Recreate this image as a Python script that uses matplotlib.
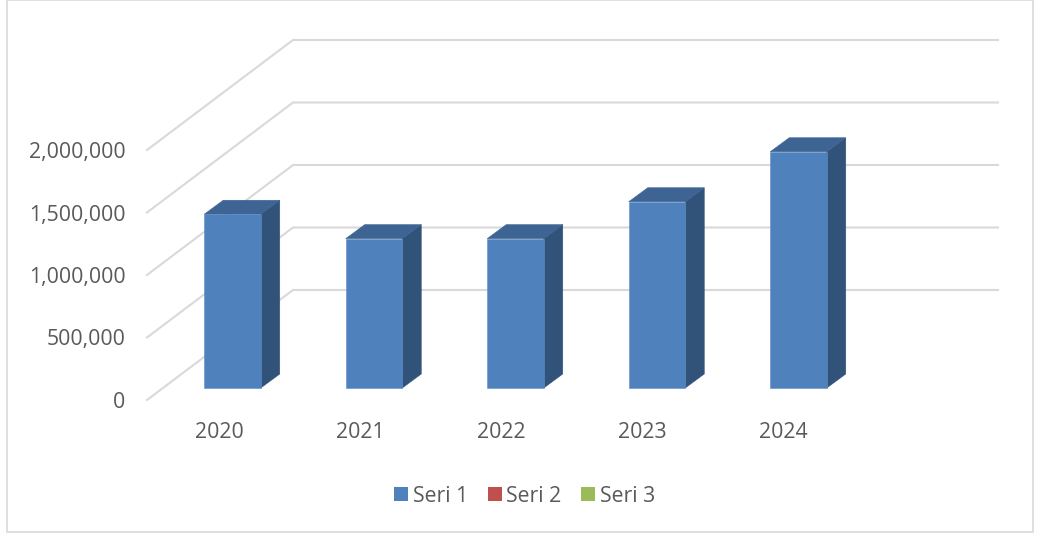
"""3D-style column chart, drawn flat with offset faces."""

import matplotlib
matplotlib.use("Agg")
import matplotlib.pyplot as plt
import matplotlib.patches as mpatches

years = ["2020", "2021", "2022", "2023", "2024"]
seri_1 = [1390000, 1195000, 1195000, 1490000, 1890000]
y_ticks = [0, 500000, 1000000, 1500000, 2000000]
series_names = ["Seri 1", "Seri 2", "Seri 3"]

BLUE = "#4F81BD"
RED = "#C0504D"
GREEN = "#9BBB59"
SIDE = "#325379"
TOP = "#3D6493"
GRID = "#D9D9D9"
TEXT = "#595959"

W, H = 1038, 535
BASE_Y = 388       # pixel row of value 0 on the bars' front plane
FIRST_X = 232.5    # pixel column of the first bar centre
STEP = 141.5       # pixels between categories
PX_PER_VALUE = 1 / 8000
BAR_W = 56.5
DEPTH_X, DEPTH_Y = 19, 14
FONT = 15.3

plt.rcParams["font.family"] = ["Open Sans", "DejaVu Sans"]

fig = plt.figure(figsize=(W / 100, H / 100), dpi=100)
fig.patch.set_facecolor("white")
ax = fig.add_axes([0, 0, 1, 1])
ax.set_xlim(-FIRST_X / STEP, (W - FIRST_X) / STEP)
ax.set_ylim((BASE_Y - H) / PX_PER_VALUE, BASE_Y / PX_PER_VALUE)
ax.axis("off")


def dx(px):
    return px / STEP


def dy(px):
    # pixel offset (positive = up) in value units
    return px / PX_PER_VALUE


# chart border
ax.add_patch(mpatches.Rectangle(
    (dx(7 - FIRST_X), dy(BASE_Y - 532)), dx(1026), dy(532),
    facecolor="none", edgecolor=GRID, linewidth=1.2, zorder=1,
))

# gridlines: wall part then the floor-to-front diagonal
for v in y_ticks:
    ax.plot(
        [dx(147 - FIRST_X), dx(293 - FIRST_X), dx(998 - FIRST_X)],
        [v - dy(12), v + dy(98), v + dy(98)],
        color=GRID, linewidth=1.5, solid_joinstyle="miter", zorder=2,
    )
    ax.text(dx(125.5 - FIRST_X), v - dy(14.5), f"{v:,}", ha="right", va="center",
            fontsize=FONT, color=TEXT)

# bars
xs = list(range(len(years)))
half = dx(BAR_W) / 2
for x, v in zip(xs, seri_1):
    right = x + half
    left = x - half
    ax.add_patch(mpatches.Polygon(
        [(right, 0), (right + dx(DEPTH_X), dy(DEPTH_Y)),
         (right + dx(DEPTH_X), v + dy(DEPTH_Y)), (right, v)],
        closed=True, facecolor=SIDE, edgecolor=SIDE, linewidth=0.4, zorder=3,
    ))
    ax.add_patch(mpatches.Polygon(
        [(left, v), (right, v), (right + dx(DEPTH_X), v + dy(DEPTH_Y)),
         (left + dx(DEPTH_X), v + dy(DEPTH_Y))],
        closed=True, facecolor=TOP, edgecolor=TOP, linewidth=0.4, zorder=3,
    ))
ax.bar(xs, seri_1, width=dx(BAR_W), color=BLUE, edgecolor="#5F8DC6",
       linewidth=0.4, zorder=4)

for x, year in zip(xs, years):
    # labels sit on a slightly tighter step than the bars
    ax.text(x - dx(13.5 + 0.5 * x), -dy(433 - BASE_Y), year, ha="center", va="center",
            fontsize=FONT, color=TEXT)

handles = [mpatches.Patch(facecolor=c, edgecolor="none", label=n)
           for c, n in zip([BLUE, RED, GREEN], series_names)]
ax.legend(
    handles=handles, ncol=3, frameon=False, fontsize=FONT, labelcolor=TEXT,
    loc="center", bbox_to_anchor=(524.5 / W, 1 - 496 / H),
    handlelength=0.68, handleheight=0.68, handletextpad=0.2,
    columnspacing=0.92, borderpad=0, borderaxespad=0,
)

fig.savefig("out.png", dpi=100, facecolor="white")
plt.close(fig)
